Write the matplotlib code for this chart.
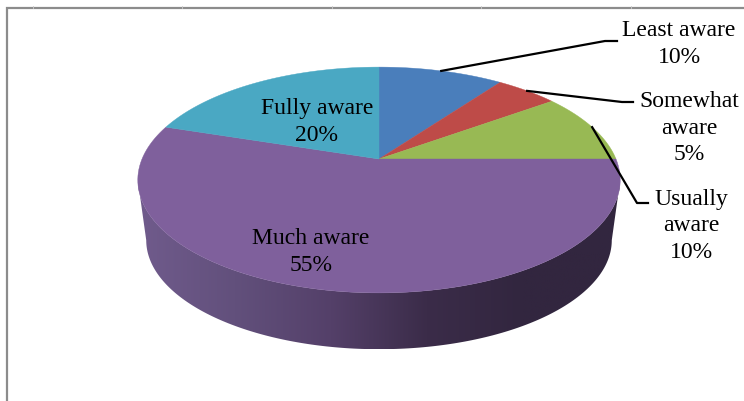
import numpy as np
import matplotlib
matplotlib.use('Agg')
import matplotlib.pyplot as plt
from matplotlib.colors import LinearSegmentedColormap
from matplotlib.patches import Polygon

# chart data, clockwise from 12 o'clock
labels = ['Least aware', 'Somewhat\naware', 'Usually\naware', 'Much aware', 'Fully aware']
values = [10, 5, 10, 55, 20]
colors = ['#4a7ebb', '#be4b48', '#98b954', '#7f609c', '#4aa8c3']
wall_colors = ['#705b8c', '#62507c', '#544069', '#3b2c49', '#32263f', '#32263f']

# label block centres and leader elbows, in pixels
label_pos = [(679, 44), (689, 128), (691, 226), (311, 252), (317, 122)]
leaders = [[(605, 42), (617, 42)],
           [(622, 103), (633, 103)],
           [(637, 204), (648, 204)],
           None,
           None]

# perspective of the pie, fitted on the picture
cx, cy = 379, 160
a, b, k = 109, 237, 0.186
wall_shift, wall_scale = 61, 0.965


def project(u, v, dy=0, s=1.0):
    d = 1 + k * v
    return cx + s * b * u / d, cy + dy - s * a * v / d


def on_rim(angle, dy=0, s=1.0):
    # angle in degrees clockwise from the top
    t = np.radians(angle)
    return project(np.sin(t), np.cos(t), dy, s)


fig = plt.figure(figsize=(7.44, 4.02), dpi=100)
ax = fig.add_axes([0, 0, 1, 1])
ax.set_xlim(0, 744)
ax.set_ylim(402, 0)
ax.axis('off')

# frame of the chart area
ax.plot([7, 7, 744], [402, 9, 9], color='#8c8c8c', lw=1.6, solid_joinstyle='miter')
for x in [33, 182, 332, 481, 631]:
    ax.plot([x, x], [7, 9], color='#c8c8c8', lw=0.6)

# side wall, dark gradient clipped to the outline
widest = 90 + np.degrees(np.arcsin(k))
front = np.linspace(widest, 360 - widest, 200)
xw, yw = on_rim(front, wall_shift, wall_scale)
xt, yt = on_rim(front, 0, 1.0)
outline = np.vstack([np.column_stack([xw, yw]), np.column_stack([xt, yt])[::-1]])
wall = Polygon(outline, closed=True, transform=ax.transData, fc='none', ec='none')
ax.add_patch(wall)
cmap = LinearSegmentedColormap.from_list('wall', wall_colors)
im = ax.imshow(np.linspace(0, 1, 256)[None, :], cmap=cmap, aspect='auto',
               extent=[138, 620, 350, 160], zorder=1)
im.set_clip_path(wall)
ax.set_xlim(0, 744)
ax.set_ylim(402, 0)

# top face slices
total = sum(values)
start = 0
mids = []
for val, col in zip(values, colors):
    end = start + 360 * val / total
    t = np.linspace(start, end, 120)
    x, y = on_rim(t)
    x = np.r_[cx, x]
    y = np.r_[cy, y]
    ax.fill(x, y, color=col, lw=0.3, zorder=2)
    mids.append((start + end) / 2)
    start = end

# labels and leader lines
for lab, val, pos, lead, mid in zip(labels, values, label_pos, leaders, mids):
    ax.text(pos[0], pos[1], f'{lab}\n{val}%', ha='center', va='center',
            family='Liberation Serif', fontsize=17, color='black',
            linespacing=1.36, zorder=4)
    if lead is not None:
        x0, y0 = on_rim(mid)
        xs = [x0] + [p[0] for p in lead]
        ys = [y0] + [p[1] for p in lead]
        ax.plot(xs, ys, color='black', lw=1.6, zorder=3)

fig.savefig('out.png', dpi=100)
